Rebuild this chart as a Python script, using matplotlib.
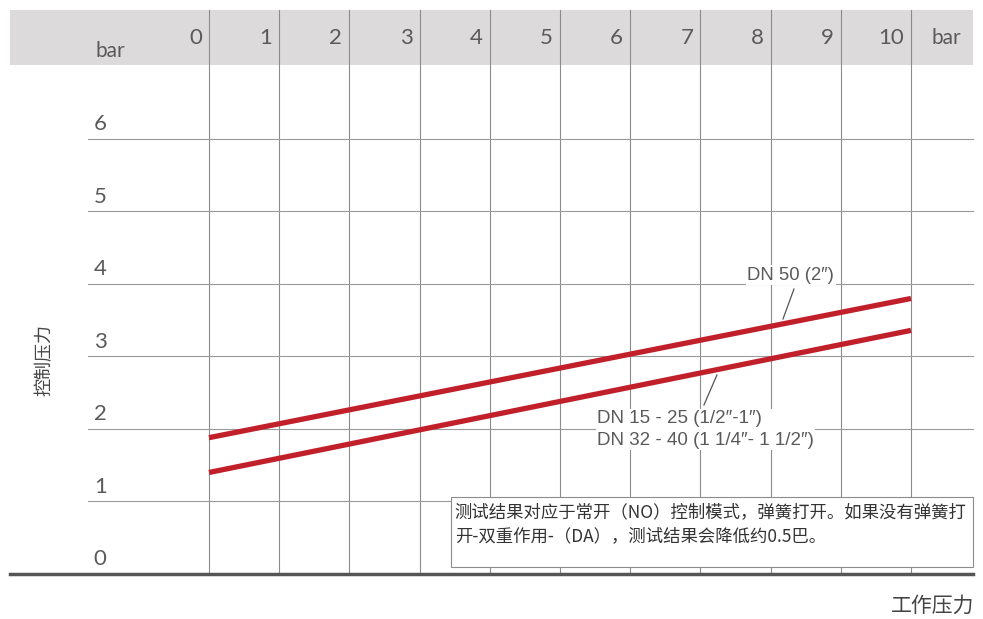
import matplotlib.pyplot as plt
from matplotlib.patches import Rectangle

# 数据
x_ticks = [0, 1, 2, 3, 4, 5, 6, 7, 8, 9, 10]
y_ticks = [0, 1, 2, 3, 4, 5, 6]
work_p = [0, 10]
dn50 = [1.88, 3.80]
dn15_40 = [1.40, 3.36]
label_dn50 = "DN 50 (2″)"
label_small = "DN 15 - 25 (1/2″-1″)\nDN 32 - 40 (1 1/4″- 1 1/2″)"
note = "测试结果对应于常开（NO）控制模式，弹簧打开。如果没有弹簧打\n开-双重作用-（DA），测试结果会降低约0.5巴。"

plt.rcParams['font.family'] = ['Lato', 'Noto Sans CJK SC', 'DejaVu Sans']
grey = '#5a5a5a'
cjk = ['Noto Sans CJK SC', 'DejaVu Sans']
arial = ['Liberation Sans', 'DejaVu Sans']

fig = plt.figure(figsize=(9.83, 6.19), dpi=100)
ax = fig.add_axes([0, 0, 1, 1])
ax.set_xlim(-2.977, 11.026)
ax.set_ylim(-0.621, 7.917)
ax.axis('off')

x_left, x_right = -2.835, 10.883
# 表头灰条
ax.add_patch(Rectangle((x_left, 7.021), x_right - x_left, 7.779 - 7.021,
                       facecolor='#dcdadb', edgecolor='none', zorder=0))

# 网格
for xv in x_ticks:
    ax.plot([xv, xv], [0, 7.779], color='#8c8c8c', lw=0.8, zorder=1)
    ax.text(xv - 0.1, 7.39, str(xv), ha='right', va='center', fontsize=16,
            color=grey)
for yv in y_ticks[1:]:
    ax.plot([-1.72, x_right], [yv, yv], color='#9a9a9a', lw=0.8, zorder=1)
for yv in y_ticks:
    ax.text(-1.64, yv + 0.2, str(yv), ha='left', va='center', fontsize=16,
            color=grey)
ax.plot([x_left, x_right], [0, 0], color='#555555', lw=2.5, zorder=2)

ax.text(-1.41, 7.21, "bar", ha='center', va='center', fontsize=15, color=grey)
ax.text(10.51, 7.39, "bar", ha='center', va='center', fontsize=15, color=grey)

# 曲线
ax.plot(work_p, dn50, color='#c1202a', lw=3.8, solid_capstyle='butt', zorder=3)
ax.plot(work_p, dn15_40, color='#c1202a', lw=3.8, solid_capstyle='butt', zorder=3)

# 标注
ax.plot([8.177, 8.333], [3.517, 3.931], color='#555555', lw=0.9, zorder=3)
ax.plot([7.051, 7.236], [2.331, 2.745], color='#555555', lw=0.9, zorder=3)
ax.text(7.67, 4.12, label_dn50, ha='left', va='center', fontsize=13.3,
        color=grey, family=arial, zorder=4,
        bbox=dict(facecolor='white', edgecolor='none', pad=1))
ax.text(5.53, 1.99, label_small, ha='left', va='center', fontsize=13.5,
        color=grey, family=arial, zorder=4,
        linespacing=1.35, bbox=dict(facecolor='white', edgecolor='none', pad=1))

# 说明框
ax.add_patch(Rectangle((3.447, 0.097), 10.883 - 3.447, 1.062 - 0.097,
                       facecolor='white', edgecolor='#8c8c8c', lw=0.8, zorder=4))
ax.text(3.50, 0.69, note, ha='left', va='center', fontsize=12.5, color='#333333',
        family=cjk, linespacing=1.45, zorder=5)

# 轴标题
ax.text(-2.34, 2.95, "控制压力", rotation=90, ha='center', va='center',
        fontsize=13, color='#444444', family=cjk)
ax.text(10.91, -0.44, "工作压力", ha='right', va='center',
        fontsize=15, color='#444444', family=cjk)

fig.savefig('out.png', dpi=100)
